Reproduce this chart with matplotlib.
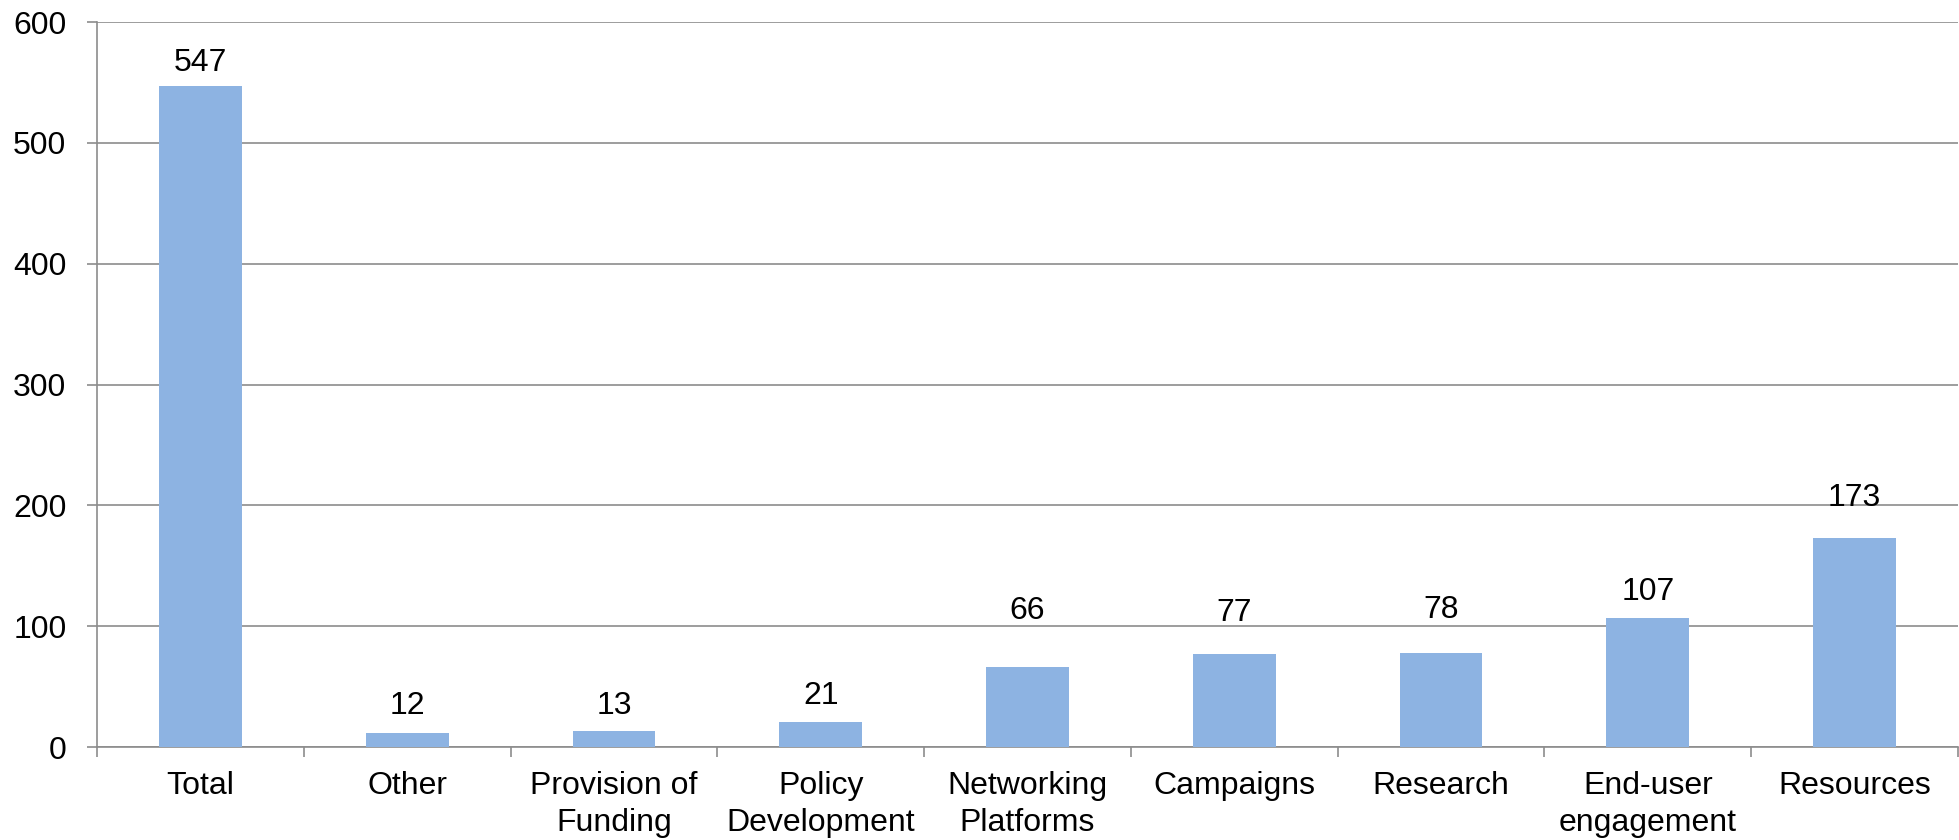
import matplotlib.pyplot as plt
import numpy as np

categories = ['Total', 'Other', 'Provision of\nFunding', 'Policy\nDevelopment',
              'Networking\nPlatforms', 'Campaigns', 'Research', 'End-user\nengagement',
              'Resources']
values = [547, 12, 13, 21, 66, 77, 78, 107, 173]

# label offsets above each bar (points), as placed in the original
label_offsets = [10.6, 13, 12.2, 13, 34.6, 23.8, 25.2, 13, 22.8]

plt.rcParams['font.family'] = ['Liberation Sans', 'DejaVu Sans']
FS = 23

fig = plt.figure(figsize=(19.59, 8.4), dpi=100)
ax = fig.add_axes([0.0495, 0.1107, 0.9500, 0.8631])

x = np.arange(len(categories))
bars = ax.bar(x, values, width=0.40, color='#8DB3E2', zorder=3)

for xi, v, off in zip(x, values, label_offsets):
    ax.annotate(str(v), (xi, v), xytext=(0, off), textcoords='offset points',
                ha='center', va='baseline', fontsize=FS, color='black')

ax.set_xlim(-0.5, len(categories) - 0.5)
ax.set_ylim(0, 600)
ax.set_yticks(range(0, 601, 100))
ax.yaxis.grid(True, color='#8C8C8C', linewidth=1.2, zorder=0)
ax.set_axisbelow(True)

ax.set_xticks(x)
ax.set_xticklabels(categories, fontsize=FS, linespacing=1.28)
ax.set_xticks(np.arange(-0.5, len(categories)), minor=True)
ax.tick_params(axis='x', which='major', length=0, pad=17.5)
ax.tick_params(axis='x', which='minor', length=7, width=1.2, color='#8C8C8C', direction='out')
ax.tick_params(axis='y', length=7, width=1.2, color='#8C8C8C', labelsize=FS, pad=15)

for s in ['top', 'right']:
    ax.spines[s].set_visible(False)
for s in ['left', 'bottom']:
    ax.spines[s].set_color('#8C8C8C')
    ax.spines[s].set_linewidth(1.2)

fig.savefig('out.png', dpi=100)
